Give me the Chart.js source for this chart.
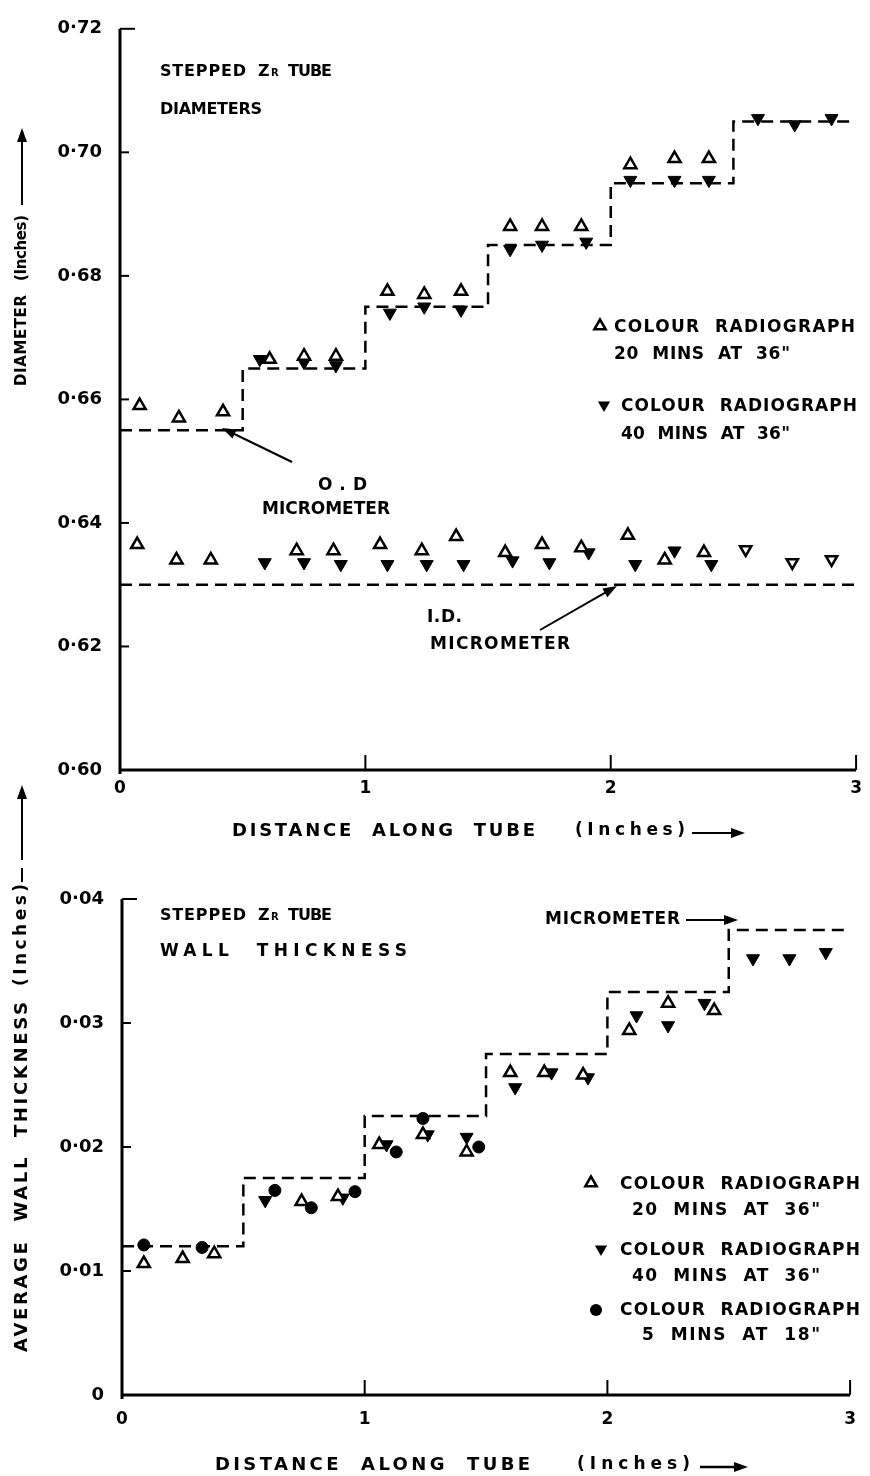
<!DOCTYPE html>
<html lang="en">
<head>
<meta charset="UTF-8">
<title>Stepped Zr tube - diameters and wall thickness</title>
<script src="https://cdn.jsdelivr.net/npm/chart.js"></script>
<style>
  body { margin: 0; background: #fff; }
  #wrap { position: relative; width: 870px; height: 1476px; }
  canvas { position: absolute; left: 0; }
  #diaChart { top: 0; }
  #wallChart { top: 780px; }
</style>
</head>
<body>
<div id="wrap">
  <canvas id="diaChart" width="870" height="850"></canvas>
  <canvas id="wallChart" width="870" height="696"></canvas>
</div>

<script>
// ---- data (inches) ----
const stepX = [0, 0.5, 1, 1.5, 2, 2.5, 3];
const odMicrometer = [0.655, 0.665, 0.675, 0.685, 0.695, 0.705, 0.705];
const idMicrometerX = [0, 3];
const idMicrometer = [0.63, 0.63];

const odX20 = [0.08, 0.24, 0.42, 0.61, 0.75, 0.88, 1.09, 1.24, 1.39, 1.59, 1.72, 1.88, 2.08, 2.26, 2.4];
const odY20 = [0.659, 0.657, 0.658, 0.6665, 0.667, 0.667, 0.6775, 0.677, 0.6775, 0.688, 0.688, 0.688, 0.698, 0.699, 0.699];
const odX40 = [0.57, 0.75, 0.88, 1.1, 1.24, 1.39, 1.59, 1.72, 1.9, 2.08, 2.26, 2.4, 2.6, 2.75, 2.9];
const odY40 = [0.6665, 0.666, 0.6655, 0.674, 0.675, 0.6745, 0.6843, 0.685, 0.6855, 0.6955, 0.6955, 0.6955, 0.7055, 0.7045, 0.7055];

const idX20 = [0.07, 0.23, 0.37, 0.72, 0.87, 1.06, 1.23, 1.37, 1.57, 1.72, 1.88, 2.07, 2.22, 2.38];
const idY20 = [0.6365, 0.634, 0.634, 0.6355, 0.6355, 0.6365, 0.6355, 0.6378, 0.6352, 0.6365, 0.636, 0.638, 0.634, 0.6352];
const idX40 = [0.59, 0.75, 0.9, 1.09, 1.25, 1.4, 1.6, 1.75, 1.91, 2.1, 2.26, 2.41];
const idY40 = [0.6336, 0.6336, 0.6333, 0.6333, 0.6333, 0.6333, 0.6339, 0.6336, 0.6352, 0.6333, 0.6355, 0.6333];
const idXOpen = [2.55, 2.74, 2.9];
const idYOpen = [0.6357, 0.6336, 0.6341];

const wallMicrometer = [0.012, 0.0175, 0.0225, 0.0275, 0.0325, 0.0375, 0.0375];
const wallX20 = [0.09, 0.25, 0.38, 0.74, 0.89, 1.06, 1.24, 1.42, 1.6, 1.74, 1.9, 2.09, 2.25, 2.44];
const wallY20 = [0.0106, 0.011, 0.0114, 0.0156, 0.016, 0.0202, 0.021, 0.0196, 0.026, 0.026, 0.0258, 0.0294, 0.0316, 0.031];
const wallX40 = [0.59, 0.91, 1.09, 1.26, 1.42, 1.62, 1.77, 1.92, 2.12, 2.25, 2.4, 2.6, 2.75, 2.9];
const wallY40 = [0.0157, 0.0159, 0.0202, 0.021, 0.0208, 0.0248, 0.026, 0.0256, 0.0306, 0.0298, 0.0316, 0.0352, 0.0352, 0.0357];
const wallX5 = [0.09, 0.33, 0.63, 0.78, 0.96, 1.13, 1.24, 1.47];
const wallY5 = [0.0121, 0.0119, 0.0165, 0.0151, 0.0164, 0.0196, 0.0223, 0.02];

const FONT = '"DejaVu Sans", "Liberation Sans", sans-serif';

function pts(xs, ys) {
    return xs.map((x, i) => ({ x: x, y: ys[i] }));
}

function tickLabel(v) {
    if (Math.abs(v) < 1e-9) return '0';
    return v.toFixed(2).replace('.', '·');
}

// ---- small drawing helpers for the hand-lettered notes ----
// writes str from x1, spreading (or squeezing) the letters so it ends near x2
function say(ctx, str, x1, x2, y, size) {
    ctx.font = 'bold ' + size + 'px ' + FONT;
    ctx.letterSpacing = '0px';
    let sp = 0;
    if (x2) {
        const w = ctx.measureText(str).width;
        sp = Math.max(-1, (x2 - x1 - w) / Math.max(1, str.length - 1));
    }
    ctx.letterSpacing = sp + 'px';
    ctx.fillText(str, x1, y);
    ctx.letterSpacing = '0px';
}

function arrow(ctx, x1, y1, x2, y2) {
    const a = Math.atan2(y2 - y1, x2 - x1);
    ctx.beginPath();
    ctx.moveTo(x1, y1);
    ctx.lineTo(x2 - 8 * Math.cos(a), y2 - 8 * Math.sin(a));
    ctx.stroke();
    ctx.beginPath();
    ctx.moveTo(x2, y2);
    ctx.lineTo(x2 - 14 * Math.cos(a) + 5 * Math.sin(a), y2 - 14 * Math.sin(a) - 5 * Math.cos(a));
    ctx.lineTo(x2 - 14 * Math.cos(a) - 5 * Math.sin(a), y2 - 14 * Math.sin(a) + 5 * Math.cos(a));
    ctx.closePath();
    ctx.fill();
}

function tri(ctx, x, y, r, down, filled) {
    const s = down ? -1 : 1;
    ctx.beginPath();
    ctx.moveTo(x, y - s * r);
    ctx.lineTo(x - r * 0.87, y + s * r * 0.5);
    ctx.lineTo(x + r * 0.87, y + s * r * 0.5);
    ctx.closePath();
    if (filled) {
        ctx.fill();
    } else {
        ctx.fillStyle = '#fff';
        ctx.fill();
        ctx.lineWidth = 2.5;
        ctx.stroke();
        ctx.fillStyle = '#000';
    }
}

function steppedZr(ctx, x, y) {
    say(ctx, 'STEPPED', x, x + 86, y, 16);
    say(ctx, 'Z', x + 98, 0, y, 16);
    say(ctx, 'R', x + 111, 0, y + 1, 10);
    say(ctx, 'TUBE', x + 128, x + 152, y, 16);
}

// axes drawn by hand so the ticks point inwards as in the original
const handAxes = {
    id: 'handAxes',
    afterDraw(chart) {
        const { ctx, chartArea: a, scales: { x, y } } = chart;
        ctx.save();
        ctx.strokeStyle = '#000';
        ctx.lineWidth = 3;
        ctx.beginPath();
        ctx.moveTo(a.left, a.top);
        ctx.lineTo(a.left, a.bottom + 4);
        ctx.moveTo(a.left, a.bottom);
        ctx.lineTo(a.right, a.bottom);
        ctx.stroke();
        ctx.lineWidth = 2;
        y.ticks.forEach(t => {
            const py = y.getPixelForValue(t.value);
            ctx.beginPath();
            ctx.moveTo(a.left, py);
            ctx.lineTo(a.left + (py <= a.top + 1 ? 15 : 9), py);
            ctx.stroke();
        });
        x.ticks.forEach(t => {
            if (t.value === 0) return;
            const px = x.getPixelForValue(t.value);
            ctx.beginPath();
            ctx.moveTo(px, a.bottom);
            ctx.lineTo(px, a.bottom - 15);
            ctx.stroke();
        });
        ctx.restore();
    }
};

function scatterSet(data, style) {
    return Object.assign({
        data: data,
        showLine: false,
        pointStyle: 'triangle',
        pointRadius: 7,
        pointBorderWidth: 2.5,
        pointBorderColor: '#000',
        pointBackgroundColor: '#fff',
        pointRotation: 0
    }, style);
}

const filledDown = { pointBackgroundColor: '#000', pointRotation: 180, pointBorderWidth: 1, pointRadius: 7.5 };

function dashedSet(data, stepped) {
    return {
        data: data,
        showLine: true,
        stepped: stepped ? 'before' : false,
        borderColor: '#000',
        borderWidth: 2.5,
        borderDash: [12, 7],
        pointRadius: 0,
        fill: false
    };
}

function baseOptions(yMin, yMax, yStep, padTop, xHeight, yWidth, xPad) {
    return {
        responsive: false,
        animation: false,
        events: [],
        layout: { padding: { left: 0, right: 3, top: padTop, bottom: 0 } },
        plugins: { legend: { display: false }, tooltip: { enabled: false } },
        scales: {
            x: {
                type: 'linear', min: 0, max: 3,
                grid: { display: false, drawTicks: false },
                border: { display: false },
                ticks: { stepSize: 1, padding: xPad, color: '#000', font: { family: FONT, size: 17, weight: 'bold' } },
                afterFit: s => { s.height = xHeight; }
            },
            y: {
                min: yMin, max: yMax,
                grid: { display: false, drawTicks: false },
                border: { display: false },
                ticks: { stepSize: yStep, padding: 18, color: '#000', callback: tickLabel,
                         font: { family: FONT, size: 18, weight: 'bold' } },
                afterFit: s => { s.width = yWidth; }
            }
        }
    };
}

// ---- top: diameters ----
const diaNotes = {
    id: 'diaNotes',
    afterDraw(chart) {
        const ctx = chart.ctx;
        ctx.save();
        ctx.fillStyle = '#000';
        ctx.strokeStyle = '#000';
        ctx.textBaseline = 'middle';
        steppedZr(ctx, 160, 72);
        say(ctx, 'DIAMETERS', 160, 262, 110, 16);

        tri(ctx, 600, 326, 6.5, false, false);
        say(ctx, 'COLOUR  RADIOGRAPH', 614, 855, 328, 17);
        say(ctx, '20  MINS  AT  36"', 614, 790, 355, 17);
        tri(ctx, 604, 405, 7, true, true);
        say(ctx, 'COLOUR  RADIOGRAPH', 621, 857, 407, 17);
        say(ctx, '40  MINS  AT  36"', 621, 790, 435, 17);

        say(ctx, 'O.D', 318, 367, 486, 17);
        say(ctx, 'MICROMETER', 262, 390, 510, 17);
        ctx.lineWidth = 2;
        arrow(ctx, 292, 462, 222, 428);

        say(ctx, 'I.D.', 427, 462, 618, 17);
        say(ctx, 'MICROMETER', 430, 570, 645, 17);
        arrow(ctx, 540, 630, 617, 586);

        say(ctx, 'DISTANCE  ALONG  TUBE', 232, 535, 831, 18);
        say(ctx, '(Inches)', 575, 685, 831, 17);
        arrow(ctx, 692, 833, 745, 833);

        ctx.translate(22, 0);
        ctx.rotate(-Math.PI / 2);
        say(ctx, 'DIAMETER', -386, -295, 0, 15);
        say(ctx, '(Inches)', -281, -215, 0, 15);
        ctx.setTransform(1, 0, 0, 1, 0, 0);
        arrow(ctx, 22, 205, 22, 128);
        ctx.restore();
    }
};

new Chart(document.getElementById('diaChart'), {
    type: 'line',
    data: {
        datasets: [
            scatterSet(pts(odX20, odY20)),
            scatterSet(pts(idX20, idY20)),
            scatterSet(pts(odX40, odY40), filledDown),
            scatterSet(pts(idX40, idY40), filledDown),
            scatterSet(pts(idXOpen, idYOpen), { pointRotation: 180, pointRadius: 6.5 }),
            dashedSet(pts(stepX, odMicrometer), true),
            dashedSet(pts(idMicrometerX, idMicrometer), false)
        ]
    },
    options: baseOptions(0.6, 0.72, 0.02, 20, 80, 120, 8),
    plugins: [handAxes, diaNotes]
});

// ---- bottom: wall thickness (canvas starts at page y 780) ----
const wallNotes = {
    id: 'wallNotes',
    afterDraw(chart) {
        const ctx = chart.ctx;
        ctx.save();
        ctx.fillStyle = '#000';
        ctx.strokeStyle = '#000';
        ctx.textBaseline = 'middle';
        steppedZr(ctx, 160, 136);
        say(ctx, 'WALL  THICKNESS', 160, 407, 172, 17);

        say(ctx, 'MICROMETER', 545, 680, 140, 17);
        ctx.lineWidth = 2;
        arrow(ctx, 686, 140, 738, 140);

        tri(ctx, 591, 403, 6.5, false, false);
        say(ctx, 'COLOUR  RADIOGRAPH', 620, 860, 405, 17);
        say(ctx, '20  MINS  AT  36"', 632, 820, 431, 17);
        tri(ctx, 601, 469, 7, true, true);
        say(ctx, 'COLOUR  RADIOGRAPH', 620, 860, 471, 17);
        say(ctx, '40  MINS  AT  36"', 632, 820, 497, 17);
        ctx.beginPath();
        ctx.arc(596, 530, 6, 0, Math.PI * 2);
        ctx.fill();
        say(ctx, 'COLOUR  RADIOGRAPH', 620, 860, 531, 17);
        say(ctx, '5  MINS  AT  18"', 642, 820, 556, 17);

        say(ctx, 'DISTANCE  ALONG  TUBE', 215, 530, 685, 18);
        say(ctx, '(Inches)', 577, 690, 685, 17);
        arrow(ctx, 700, 687, 748, 687);

        ctx.translate(22, 0);
        ctx.rotate(-Math.PI / 2);
        say(ctx, 'AVERAGE  WALL  THICKNESS', -572, -222, 0, 18);
        say(ctx, '(Inches)', -206, -104, 0, 17);
        ctx.setTransform(1, 0, 0, 1, 0, 0);
        ctx.lineWidth = 2;
        ctx.beginPath();
        ctx.moveTo(22, 102);
        ctx.lineTo(22, 88);
        ctx.stroke();
        arrow(ctx, 22, 80, 22, 5);
        ctx.restore();
    }
};

new Chart(document.getElementById('wallChart'), {
    type: 'line',
    data: {
        datasets: [
            scatterSet(pts(wallX5, wallY5), { pointStyle: 'circle', pointRadius: 6, pointBackgroundColor: '#000', pointBorderWidth: 1 }),
            scatterSet(pts(wallX20, wallY20)),
            scatterSet(pts(wallX40, wallY40), filledDown),
            dashedSet(pts(stepX, wallMicrometer), true)
        ]
    },
    options: baseOptions(0, 0.04, 0.01, 119, 81, 122, 14),
    plugins: [handAxes, wallNotes]
});
</script>
</body>
</html>
